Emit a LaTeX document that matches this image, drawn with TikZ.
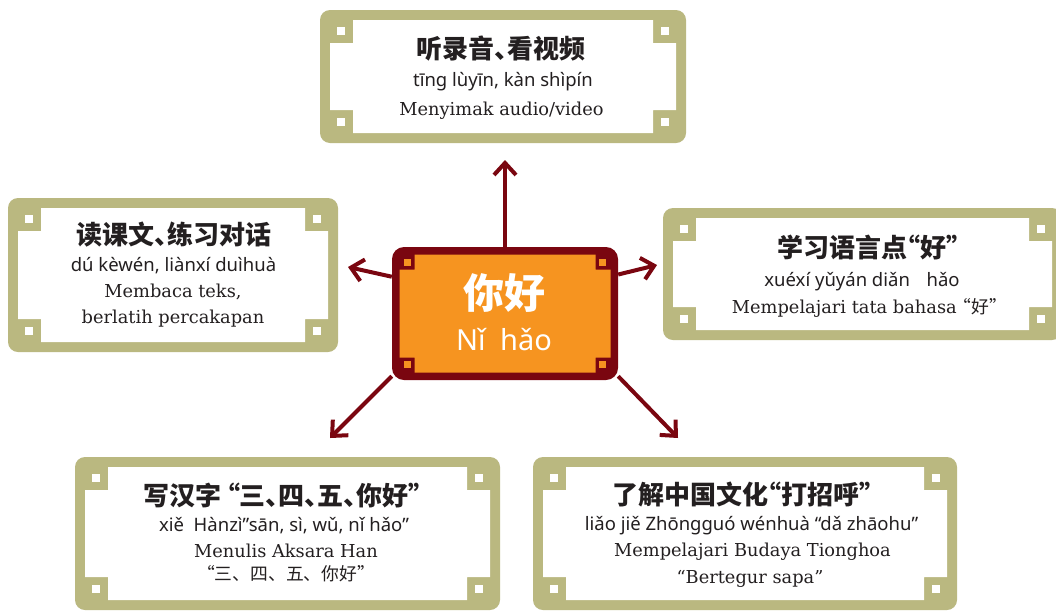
\documentclass[tikz,border=0pt]{standalone}
\usepackage{fontspec}
\setmainfont{DejaVu Serif}
\newfontfamily\cjk{Noto Sans CJK SC}
\newfontfamily\cjkh{Noto Sans CJK SC}[RawFeature=+halt]
\newfontfamily\pyf{Noto Sans}
\newfontfamily\idf{DejaVu Serif}
\usetikzlibrary{arrows.meta,fit}
\definecolor{frameol}{RGB}{186,184,128}
\definecolor{dkred}{RGB}{122,6,16}
\definecolor{orng}{RGB}{246,148,32}
\definecolor{ink}{RGB}{35,31,32}
\tikzset{
  txthead/.style={font=\cjkh\bfseries\fontsize{26}{28}\selectfont, text=ink, inner sep=0pt},
  txtpy/.style={font=\pyf\fontsize{18.5}{20}\selectfont, text=ink, inner sep=0pt, anchor=base},
  txtind/.style={font=\idf\fontsize{17.8}{20}\selectfont, text=ink, inner sep=0pt, anchor=base},
  txtcjk/.style={font=\cjk\fontsize{17.8}{20}\selectfont, text=ink, inner sep=0pt},
  arr/.style={draw=dkred, line width=4pt, -{Straight Barb[length=12pt,width=22pt,sharp]}},
  boxname/.style={inner sep=0pt, draw=none},
}
\newcommand{\rc}{10}
\newcommand{\so}{7}
\newcommand{\ssz}{8}
% #1 name, #2 x1, #3 y1, #4 x2, #5 y2, #6 outer, #7 inner, #8 border, #9 notch
\newcommand{\decoframe}[9]{%
  \fill[#6, rounded corners=\rc pt] (#2,#3) rectangle (#4,#5);
  \pgfmathsetmacro\ax{#2+#8}\pgfmathsetmacro\ay{#3+#8}%
  \pgfmathsetmacro\bx{#4-#8}\pgfmathsetmacro\by{#5-#8}%
  \fill[#7] (\ax+#9,\ay) -- (\bx-#9,\ay) -- (\bx-#9,\ay+#9) -- (\bx,\ay+#9)
     -- (\bx,\by-#9) -- (\bx-#9,\by-#9) -- (\bx-#9,\by) -- (\ax+#9,\by)
     -- (\ax+#9,\by-#9) -- (\ax,\by-#9) -- (\ax,\ay+#9) -- (\ax+#9,\ay+#9) -- cycle;
  \fill[#7] (\ax+\so,\ay+\so) rectangle ++(\ssz,\ssz);
  \fill[#7] (\bx-\so,\ay+\so) rectangle ++(-\ssz,\ssz);
  \fill[#7] (\ax+\so,\by-\so) rectangle ++(\ssz,-\ssz);
  \fill[#7] (\bx-\so,\by-\so) rectangle ++(-\ssz,-\ssz);
  \node[boxname, fit={(#2,#3) (#4,#5)}] (#1) {};
}
\begin{document}
\begin{tikzpicture}[x=1pt,y=-1pt]
\useasboundingbox (0,0) rectangle (1056,611);
\clip (0,0) rectangle (1056,611);
\fill[white] (0,0) rectangle (1056,611);

% outer frames
\decoframe{top}{320}{10}{686}{143}{frameol}{white}{10}{23}
\decoframe{lft}{8}{198}{338}{352}{frameol}{white}{10}{23}
\decoframe{rgt}{663}{208}{1062}{340}{frameol}{white}{10}{23}
\decoframe{bl}{75}{457}{500}{610}{frameol}{white}{10}{23}
\decoframe{br}{533}{457}{957}{610}{frameol}{white}{10}{23}

% arrow tips
\coordinate (aT) at (505,160);
\coordinate (aL) at (348,267);
\coordinate (aR) at (657,265);
\coordinate (aLL) at (330,438);
\coordinate (aLR) at (678,438);

% center frame anchors
\node[boxname, minimum width=226pt, minimum height=133pt] (c) at (505,313.5) {};
\draw[arr] (c.north) -- (aT);
\draw[arr] (c.162) -- (aL);
\draw[arr] (c.19) -- (aR);
\draw[arr] (c.209) -- (aLL);
\draw[arr] (c.331) -- (aLR);

\renewcommand{\rc}{12}
\renewcommand{\so}{4.5}
\renewcommand{\ssz}{7}
\decoframe{cf}{392}{247}{618}{380}{dkred}{orng}{7.5}{15}

% center text
\node[font=\cjk\bfseries\fontsize{41}{43}\selectfont, text=white, inner sep=0pt] (c1) at (504,293) {你好};
\node[font=\pyf\fontsize{29}{31}\selectfont, text=white, inner sep=0pt, anchor=base] (c2) at (504,350) {Nǐ\hspace{0.5em}hǎo};

% top box
\node[txthead] (t1) at (501,49) {听录音、看视频};
\node[txtpy] (t2) at (503,86.7) {tīng lùyīn, kàn shìpín};
\node[txtind] (t3) at (501.5,115) {Menyimak audio/video};

% left box
\node[txthead] (l1) at (174,235) {读课文、练习对话};
\node[txtpy] (l2) at (173.5,271) {dú kèwén, liànxí duìhuà};
\node[txtind] (l3) at (173,297.7) {Membaca teks,};
\node[txtind] (l4) at (173,323) {berlatih percakapan};

% right box
\node[txthead] (r1) at (868,247) {学习语言点“好”};
\node[txtpy] (r2) at (862,286.7) {xuéxí yǔyán diǎn\hspace{0.9em}hǎo};
\node[txtind] (r3) at (865,313) {Mempelajari tata bahasa {\cjkh“好”}};

% bottom left box
\node[txthead] (b1) at (282.5,495) {写汉字 “三、四、五、你好”};
\node[txtpy] (b2) at (284,531.7) {xiě\ \ Hànzì”sān, sì, wǔ, nǐ hǎo”};
\node[txtind] (b3) at (286,557.7) {Menulis Aksara Han};
\node[txtcjk] (b4) at (286,574) {“三、四、五、你好”};

% bottom right box
\node[txthead] (d1) at (742,494) {了解中国文化“打招呼”};
\node[txtpy] (d2) at (751.5,530) {liǎo jiě Zhōngguó wénhuà “dǎ zhāohu”};
\node[txtind] (d3) at (752.5,556.7) {Mempelajari Budaya Tionghoa};
\node[txtind] (d4) at (750,583) {“Bertegur sapa”};
\end{tikzpicture}
\end{document}
